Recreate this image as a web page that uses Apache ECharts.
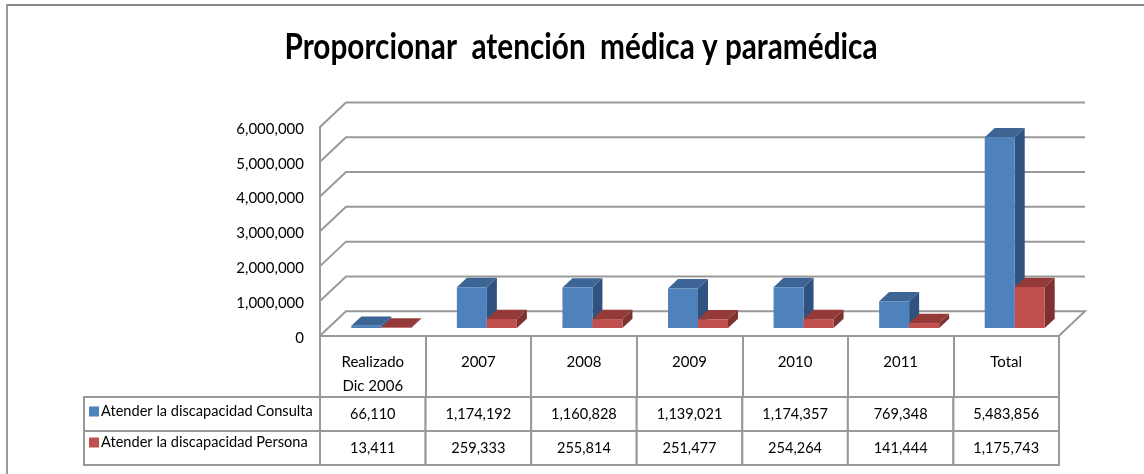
<!DOCTYPE html>
<html>
<head>
<meta charset="utf-8">
<script src="https://cdn.jsdelivr.net/npm/echarts@6/dist/echarts.min.js"></script>
<style>
html, body { margin: 0; padding: 0; background: #fff; }
#frame { position: absolute; left: 6px; top: 4px; width: 1138px; height: 470px; border-left: 2px solid #999; border-top: 2px solid #888; box-sizing: border-box; }
#chart { position: absolute; left: 0; top: 0; width: 1144px; height: 474px; }
</style>
</head>
<body>
<div id="frame"></div>
<div id="chart"></div>
<script>
const chartTitle = "Proporcionar  atención  médica y paramédica";
const categories = ["Realizado\nDic 2006", "2007", "2008", "2009", "2010", "2011", "Total"];
const consulta = [66110, 1174192, 1160828, 1139021, 1174357, 769348, 5483856];
const persona = [13411, 259333, 255814, 251477, 254264, 141444, 1175743];
const seriesNames = ["Atender la discapacidad Consulta", "Atender la discapacidad Persona"];
const yTicks = [0, 1000000, 2000000, 3000000, 4000000, 5000000, 6000000];

const FONT = 'Lato, "Open Sans", sans-serif';
const GREY = "#999999";
const TEXT = "#000";
const WALL_X = 26, WALL_Y = 24.5;   // depth of the back wall
const BASE_X = 8.5, BASE_Y = 7.7;   // bars stand in the middle of the floor
const BAR_W = 30, BAR_DX = 10, BAR_DY = 9.3;
const ROW_TOP = 397, ROW_H = 34;

function fmt(v) {
    return v.toLocaleString("en-US");
}

function barItem(offset, front, side, top) {
    return function (params, api) {
        const p = api.coord([api.value(0), api.value(1)]);
        const zero = api.coord([api.value(0), 0]);
        const x0 = p[0] + BASE_X + offset;
        const x1 = x0 + BAR_W;
        const y0 = zero[1] - BASE_Y;
        const y1 = p[1] - BASE_Y;
        return {
            type: "group",
            children: [
                { type: "polygon", shape: { points: [[x1, y0], [x1 + BAR_DX, y0 - BAR_DY], [x1 + BAR_DX, y1 - BAR_DY], [x1, y1]] }, style: { fill: side } },
                { type: "polygon", shape: { points: [[x0, y1], [x0 + BAR_DX, y1 - BAR_DY], [x1 + BAR_DX, y1 - BAR_DY], [x1, y1]] }, style: { fill: top } },
                { type: "rect", shape: { x: x0, y: y1, width: BAR_W, height: y0 - y1 }, style: { fill: front } }
            ]
        };
    };
}

function wallItem(params, api) {
    const cs = params.coordSys;
    const y = api.coord([0, api.value(0)])[1];
    const pts = [[cs.x, y], [cs.x + WALL_X, y - WALL_Y], [cs.x + cs.width + WALL_X, y - WALL_Y]];
    if (api.value(0) === 0) {
        pts.push([cs.x + cs.width, y]);
    }
    return { type: "polyline", shape: { points: pts }, style: { fill: "none", stroke: GREY, lineWidth: 2 } };
}

function tableItem(params, api) {
    const cs = params.coordSys;
    const i = api.value(0);
    const w = cs.width / categories.length;
    const x = cs.x + i * w;
    const kids = [];
    [consulta, persona].forEach(function (row, r) {
        const y = ROW_TOP + r * ROW_H;
        kids.push({ type: "rect", shape: { x: x, y: y, width: w, height: ROW_H }, style: { fill: "#fff", stroke: GREY, lineWidth: 2 } });
        kids.push({ type: "text", x: x + w / 2, y: y + ROW_H / 2, scaleX: 0.91, style: { text: fmt(row[i]), font: "16px " + FONT, fill: TEXT, align: "center", verticalAlign: "middle" } });
        if (i === 0) {
            kids.push({ type: "rect", shape: { x: 84, y: y, width: cs.x - 84, height: ROW_H }, style: { fill: "none", stroke: GREY, lineWidth: 2 } });
        }
    });
    return { type: "group", children: kids };
}

const chart = echarts.init(document.getElementById("chart"), null, { renderer: "canvas" });
chart.setOption({
    animation: false,
    backgroundColor: "transparent",
    graphic: [{
        type: "text",
        x: 581,
        y: 47,
        scaleX: 0.826,
        style: { text: chartTitle, font: "bold 36px " + FONT, fill: "#000", align: "center", verticalAlign: "middle" }
    }],
    grid: { left: 320, width: 739, top: 127, height: 208.7 },
    legend: {
        orient: "vertical",
        left: 84,
        top: 399,
        itemWidth: 10,
        itemHeight: 10,
        itemGap: 16,
        icon: "rect",
        data: seriesNames,
        selectedMode: false,
        textStyle: { fontFamily: FONT, fontSize: 14.6, color: TEXT, padding: [0, 0, 0, -3] }
    },
    xAxis: {
        type: "category",
        data: categories,
        z: 5,
        axisLine: { show: true, lineStyle: { color: GREY, width: 2 } },
        axisTick: { show: true, interval: 0, length: 61, lineStyle: { color: GREY, width: 2 } },
        axisLabel: { margin: 14, lineHeight: 24, fontFamily: FONT, fontSize: 15, color: TEXT, interval: 0 }
    },
    yAxis: {
        type: "value",
        min: 0,
        max: 6000000,
        interval: 1000000,
        splitLine: { show: false },
        axisTick: { show: false },
        axisLine: { show: true, lineStyle: { color: GREY, width: 2 } },
        axisLabel: { margin: 16, verticalAlign: "top", lineHeight: 4, fontFamily: FONT, fontSize: 15, color: TEXT, formatter: fmt }
    },
    series: [
        {
            type: "custom",
            name: "walls",
            z: 1,
            silent: true,
            data: yTicks.map(function (v) { return [v]; }),
            encode: { y: 0 },
            renderItem: wallItem
        },
        {
            type: "custom",
            name: seriesNames[0],
            z: 3,
            itemStyle: { color: "#4F81BD" },
            data: consulta.map(function (v, i) { return [i, v]; }),
            encode: { x: 0, y: 1 },
            renderItem: barItem(-BAR_W, "#4F81BD", "#2F5280", "#3C6494")
        },
        {
            type: "custom",
            name: seriesNames[1],
            z: 4,
            itemStyle: { color: "#C0504D" },
            data: persona.map(function (v, i) { return [i, v]; }),
            encode: { x: 0, y: 1 },
            renderItem: barItem(0, "#C0504D", "#7D3230", "#943B39")
        },
        {
            type: "custom",
            name: "table",
            z: 2,
            silent: true,
            data: categories.map(function (c, i) { return [i]; }),
            encode: { x: 0 },
            renderItem: tableItem
        }
    ]
});
</script>
</body>
</html>
